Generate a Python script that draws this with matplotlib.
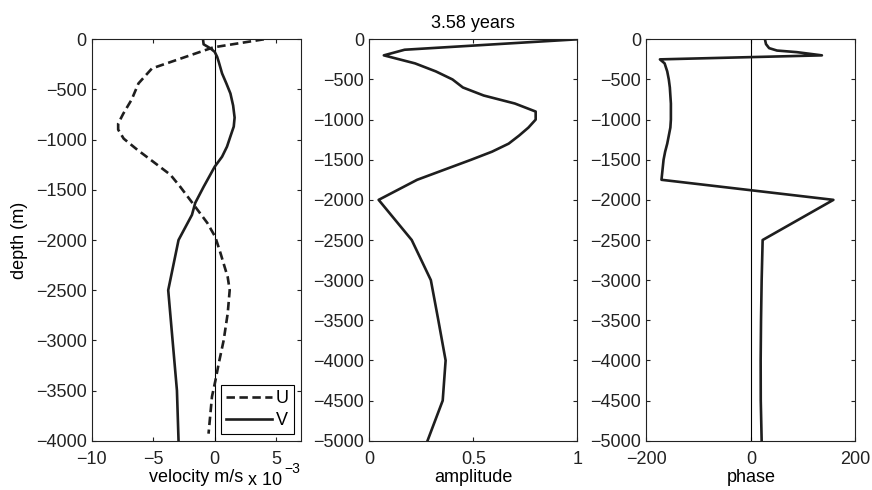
import numpy as np
import matplotlib
matplotlib.use("Agg")
import matplotlib.pyplot as plt

plt.rcParams['font.family'] = ['Liberation Sans', 'DejaVu Sans']
plt.rcParams['font.size'] = 13

# velocity profiles (units of 1e-3 m/s), depth in m
u_depth = [0, -80, -290, -440, -600, -740, -840, -900, -990, -1100, -1220, -1350,
           -1470, -1600, -1830, -1970, -2130, -2370, -2500, -2730, -3000, -3230,
           -3400, -3560, -3930]
u_vel = [4.0, -0.1, -5.1, -6.2, -6.75, -7.43, -7.85, -7.85, -7.4, -6.3, -5.0, -3.6,
         -2.8, -2.0, -0.6, 0.05, 0.47, 1.06, 1.22, 1.06, 0.73, 0.33, 0.06, -0.22, -0.5]

v_depth = [0, -50, -90, -125, -175, -225, -340, -440, -540, -660, -780, -870, -960,
           -1070, -1170, -1270, -1470, -1630, -1750, -2000, -2500, -3500, -4000]
v_vel = [-0.95, -0.9, -0.35, 0.0, 0.2, 0.33, 0.6, 0.95, 1.28, 1.5, 1.62, 1.55, 1.3,
         1.0, 0.6, 0.0, -0.9, -1.58, -1.85, -2.94, -3.78, -3.07, -2.94]

# amplitude profile
a_depth = [0, -130, -200, -300, -400, -500, -600, -700, -800, -900, -1000, -1100,
           -1200, -1300, -1400, -1500, -1750, -2000, -2500, -3000, -3500, -4000,
           -4500, -5000]
a_amp = [1.0, 0.17, 0.07, 0.22, 0.32, 0.40, 0.45, 0.55, 0.70, 0.80, 0.80, 0.765,
         0.72, 0.67, 0.59, 0.49, 0.23, 0.045, 0.204, 0.296, 0.332, 0.367, 0.353, 0.28]

# phase profile
p_depth = [0, -60, -110, -140, -160, -200, -250, -300, -400, -500, -600, -700, -800,
           -900, -1000, -1100, -1200, -1300, -1400, -1500, -1750, -2000, -2500,
           -3000, -3500, -4000, -4500, -5000]
p_phase = [27, 29, 35, 50, 88, 136, -174, -165, -160, -157, -155, -154, -153, -153,
           -153, -154, -157, -160, -164, -167, -171, 158, 22.6, 20.7, 19.5, 18.8,
           19, 20.7]

period_title = "3.58 years"

lc = "#1e1e1e"
lw = 1.9

fig = plt.figure(figsize=(8.72, 4.9), dpi=100)
bot = 0.1006
hgt = 0.8192
ax1 = fig.add_axes([0.1052, bot, 0.2397, hgt])
ax2 = fig.add_axes([0.4235, bot, 0.2385, hgt])
ax3 = fig.add_axes([0.7412, bot, 0.2397, hgt])

for ax in (ax1, ax2, ax3):
    ax.tick_params(direction='in', top=True, right=True, length=3.2, width=0.8,
                   colors='#222222', labelcolor='#222222')
    ax.tick_params(axis='x', pad=7.5)
    ax.tick_params(axis='y', pad=3.6)
    for s in ax.spines.values():
        s.set_linewidth(0.8)
        s.set_color('#222222')

# panel 1
ax1.axvline(0, color='black', lw=0.8)
ax1.plot(u_vel, u_depth, color=lc, lw=lw, dashes=(3.2, 1.7), label='U')
ax1.plot(v_vel, v_depth, color=lc, lw=lw, label='V')
ax1.set_xlim(-10, 7)
ax1.set_ylim(-4000, 0)
ax1.set_xticks([-10, -5, 0, 5])
ax1.set_yticks(np.arange(-4000, 1, 500))
ax1.set_xlabel('velocity m/s', labelpad=0.5)
ax1.set_ylabel('depth (m)', labelpad=6)
leg = ax1.legend(loc='lower right', fancybox=False, framealpha=1, edgecolor='black',
                 borderpad=0.3, labelspacing=0.25, handlelength=2.55,
                 handletextpad=0.2, borderaxespad=0.35)
leg.get_frame().set_linewidth(0.8)
# MATLAB-style exponent under the axis
fig.text(248 / 872, 1 - 485 / 490, 'x 10', ha='left', va='baseline')
fig.text(284 / 872, 1 - 473 / 490, '\u22123', ha='left', va='baseline', fontsize=10)

# panel 2
ax2.plot(a_amp, a_depth, color=lc, lw=lw)
ax2.set_xlim(0, 1)
ax2.set_ylim(-5000, 0)
ax2.set_xticks([0, 0.5, 1])
ax2.set_xticklabels(['0', '0.5', '1'])
ax2.set_yticks(np.arange(-5000, 1, 500))
ax2.set_xlabel('amplitude', labelpad=0.5)
ax2.set_title(period_title, fontsize=13, pad=8)

# panel 3
ax3.axvline(0, color='black', lw=0.8)
ax3.plot(p_phase, p_depth, color=lc, lw=lw)
ax3.set_xlim(-200, 200)
ax3.set_ylim(-5000, 0)
ax3.set_xticks([-200, 0, 200])
ax3.set_yticks(np.arange(-5000, 1, 500))
ax3.set_xlabel('phase', labelpad=0.5)

fig.savefig('out.png', dpi=100)
